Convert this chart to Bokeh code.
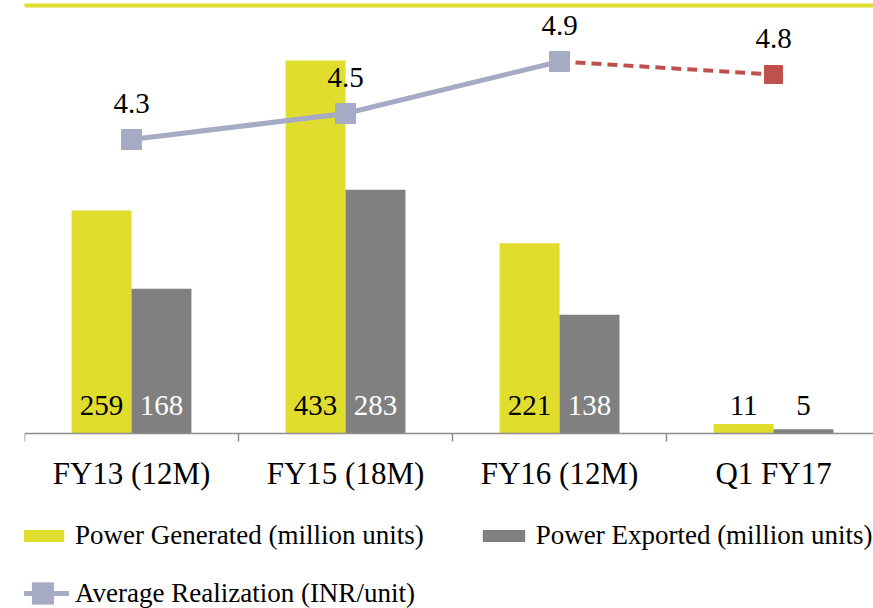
from bokeh.plotting import figure
from bokeh.models import (Range1d, FixedTicker, Legend, LegendItem, ColumnDataSource,
                          BoxAnnotation)
from bokeh.core.properties import value
from bokeh.embed import file_html
from bokeh.resources import INLINE

# ---- data ----
categories = ["FY13 (12M)", "FY15 (18M)", "FY16 (12M)", "Q1 FY17"]
power_generated = [259, 433, 221, 11]
power_exported = [168, 283, 138, 5]
avg_realization = [4.3, 4.5, 4.9, 4.8]

YELLOW = "#e0dd2e"
GRAY = "#808080"
LAVENDER = "#a5aac5"
RED = "#c0504d"
FONT = "Liberation Serif"

centers = [i + 0.5 for i in range(len(categories))]
bw = 0.28
x_gen = [c - bw / 2 for c in centers]
x_exp = [c + bw / 2 for c in centers]

p = figure(x_range=Range1d(0, 3.967), y_range=Range1d(-203.16, 502.7),
           frame_width=849, frame_height=608, output_backend="svg", toolbar_location=None,
           min_border_left=24, min_border_right=0, min_border_top=0,
           min_border_bottom=0, y_axis_location=None)
p.extra_y_ranges = {"rate": Range1d(0.6923, 5.3692)}
p.xgrid.visible = False
p.ygrid.visible = False
p.outline_line_color = None

# top decorative line
p.add_layout(BoxAnnotation(left=-20, right=900, top=3, bottom=7,
                           left_units="canvas", right_units="canvas",
                           top_units="canvas", bottom_units="canvas",
                           fill_color=YELLOW, fill_alpha=1, line_color=None))

src = ColumnDataSource(dict(
    xg=x_gen, xe=x_exp, gen=power_generated, exp=power_exported,
    gen_lbl=[str(v) for v in power_generated],
    exp_lbl=[str(v) for v in power_exported],
    exp_col=["white" if v > 50 else "black" for v in power_exported],
    zero=[0] * len(categories),
))

r_gen = p.vbar(x="xg", top="gen", width=bw, source=src, fill_color=YELLOW, line_color=None)
r_exp = p.vbar(x="xe", top="exp", width=bw, source=src, fill_color=GRAY, line_color=None)

p.text(x="xg", y="zero", text="gen_lbl", source=src, text_align="center",
       text_baseline="middle", y_offset=-28, text_color="black",
       text_font=value(FONT), text_font_size="29px")
p.text(x="xe", y="zero", text="exp_lbl", source=src, text_align="center",
       text_baseline="middle", y_offset=-28, text_color="exp_col",
       text_font=value(FONT), text_font_size="29px")

# average realization line
r_dash = p.line(centers[2:], avg_realization[2:], y_range_name="rate",
                line_color=RED, line_width=4, line_dash="10 6")
r_line = p.line(centers[:3], avg_realization[:3], y_range_name="rate",
                line_color=LAVENDER, line_width=5)
r_mk = p.scatter(centers[:3], avg_realization[:3], y_range_name="rate", marker="square",
                 size=20, fill_color=LAVENDER, line_color=LAVENDER)
p.scatter(centers[3:], avg_realization[3:], y_range_name="rate", marker="square",
          size=18, fill_color=RED, line_color=RED)
p.text(centers, avg_realization, text=[f"{v:.1f}" for v in avg_realization],
       y_range_name="rate", text_align="center", text_baseline="middle", y_offset=-36,
       text_font=value(FONT), text_font_size="29px", text_color="black")

# x axis, drawn at y = 0 of the bar range
ax = p.xaxis[0]
ax.fixed_location = 0
ax.ticker = FixedTicker(ticks=centers, minor_ticks=list(range(len(categories) + 1)))
ax.major_label_overrides = {c: lab for c, lab in zip(centers, categories)}
ax.major_tick_in = 0
ax.major_tick_out = 0
ax.minor_tick_in = 0
ax.minor_tick_out = 8
ax.axis_line_color = "#8c8c8c"
ax.axis_line_width = 1.5
ax.minor_tick_line_color = "#8c8c8c"
ax.minor_tick_line_width = 1.5
ax.major_label_text_font = FONT
ax.major_label_text_font_size = "31px"
ax.major_label_text_color = "black"
ax.major_label_standoff = 14

common = dict(label_text_font=FONT, label_text_font_size="27px", label_text_color="black",
              glyph_width=53, label_standoff=6, padding=0, margin=0,
              border_line_color=None, background_fill_alpha=0)

legend_a = Legend(items=[
    LegendItem(label="Power Generated (million units)", renderers=[r_gen]),
    LegendItem(label="Power Exported (million units)", renderers=[r_exp]),
], orientation="horizontal", location=(-8, 57), glyph_height=15,
    label_height=30, spacing=53, **common)
legend_b = Legend(items=[
    LegendItem(label="Average Realization (INR/unit)", renderers=[r_line, r_mk]),
], orientation="horizontal", location=(-8, -13), glyph_height=56,
    label_height=30, spacing=10, **common)
p.add_layout(legend_a)
p.add_layout(legend_b)

open("out.html", "w").write(file_html(p, INLINE))
